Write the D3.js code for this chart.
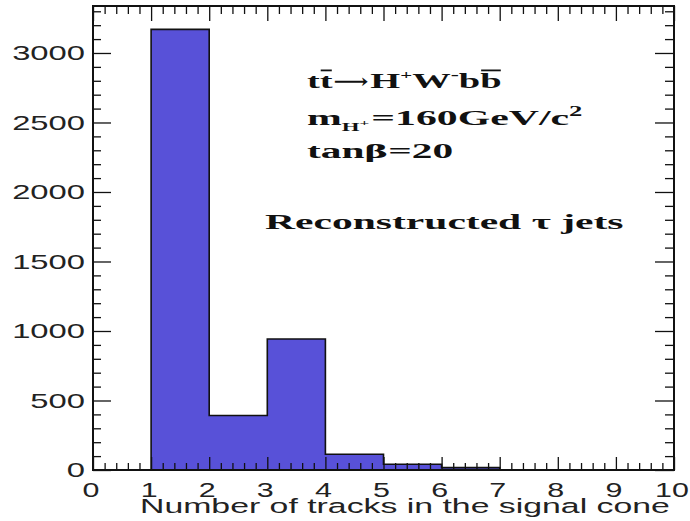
<!DOCTYPE html>
<html>
<head>
<meta charset="utf-8">
<style>
  body { margin: 0; background: #fff; }
  svg { display: block; }
  text { white-space: pre; }
</style>
</head>
<body>
<svg id="chart" width="690" height="521"></svg>
<script src="https://cdnjs.cloudflare.com/ajax/libs/d3/7.8.5/d3.min.js"></script>
<script>
// histogram: number of tracks in the signal cone
var binEdges = [0, 1, 2, 3, 4, 5, 6, 7, 8, 9, 10];
var binCounts = [0, 3170, 392, 942, 113, 41, 17, 0, 0, 0];
var xTicks = [0, 1, 2, 3, 4, 5, 6, 7, 8, 9, 10];
var yTicks = [0, 500, 1000, 1500, 2000, 2500, 3000];
var yMax = 3338;

var svg = d3.select("#chart");
var padL = 93, padR = 674, padT = 6, padB = 470;

var x = d3.scaleLinear().domain([0, 10]).range([padL, padR]);
var y = d3.scaleLinear().domain([0, yMax]).range([padB, padT]);

var fill = "#5851d8";
var sans = "Liberation Sans, Arial, sans-serif";
var serif = "Liberation Serif, Times New Roman, serif";

// step points of the histogram
var bins = binCounts.map(function(v, i) { return {lo: binEdges[i], hi: binEdges[i + 1], v: v}; });
var pts = [[binEdges[0], 0]];
bins.forEach(function(d) { pts.push([d.lo, d.v]); pts.push([d.hi, d.v]); });
pts.push([binEdges[binEdges.length - 1], 0]);

// filled area, one piece so there are no seams between bins
svg.append("path")
  .attr("d", d3.area().x(function(p) { return x(p[0]); }).y0(y(0)).y1(function(p) { return y(p[1]); })(pts))
  .attr("fill", fill);

// outline
svg.append("path")
  .attr("d", d3.line().x(function(p) { return x(p[0]); }).y(function(p) { return y(p[1]); })(pts))
  .attr("fill", "none")
  .attr("stroke", "#111")
  .attr("stroke-width", 1.6);

// minor tick values
var xMinor = d3.range(0, 10.001, 0.2).filter(function(v) { return Math.abs(v - Math.round(v)) > 1e-6; });
var yMinor = d3.range(0, yMax, 100).filter(function(v) { return v % 500 !== 0; });

function noDomain(g) { g.select(".domain").remove(); g.selectAll("line").attr("stroke", "#111").attr("stroke-width", 1.3); }

// the labels in the picture are stretched sideways
var sxTick = 1.56;

// bottom axis (ticks pointing up)
svg.append("g").attr("transform", "translate(0," + padB + ")")
  .call(d3.axisBottom(x).tickValues(xMinor).tickSize(-7).tickFormat(""))
  .call(noDomain);
var xb = svg.append("g").attr("transform", "translate(0," + padB + ")")
  .call(d3.axisBottom(x).tickValues(xTicks).tickSize(-13).tickFormat(d3.format("d")))
  .call(noDomain);
xb.selectAll("text")
  .attr("font-family", sans).attr("font-size", 19.5).attr("fill", "#222")
  .attr("dy", 0).attr("y", 27).attr("x", -2.5 / sxTick)
  .attr("transform", "scale(" + sxTick + ",1)");

// top axis (ticks pointing down)
svg.append("g").attr("transform", "translate(0," + padT + ")")
  .call(d3.axisTop(x).tickValues(xMinor).tickSize(-8).tickFormat(""))
  .call(noDomain);
svg.append("g").attr("transform", "translate(0," + padT + ")")
  .call(d3.axisTop(x).tickValues(xTicks).tickSize(-15).tickFormat(""))
  .call(noDomain);

// left axis (ticks pointing right)
svg.append("g").attr("transform", "translate(" + padL + ",0)")
  .call(d3.axisLeft(y).tickValues(yMinor).tickSize(-8).tickFormat(""))
  .call(noDomain);
var yl = svg.append("g").attr("transform", "translate(" + padL + ",0)")
  .call(d3.axisLeft(y).tickValues(yTicks).tickSize(-18).tickFormat(d3.format("d")))
  .call(noDomain);
yl.selectAll("text")
  .attr("font-family", sans).attr("font-size", 21).attr("fill", "#222")
  .attr("dy", "0.33em").attr("x", -8 / sxTick)
  .attr("transform", "scale(" + sxTick + ",1)");

// right axis (ticks pointing left)
svg.append("g").attr("transform", "translate(" + padR + ",0)")
  .call(d3.axisRight(y).tickValues(yMinor).tickSize(-9).tickFormat(""))
  .call(noDomain);
svg.append("g").attr("transform", "translate(" + padR + ",0)")
  .call(d3.axisRight(y).tickValues(yTicks).tickSize(-19).tickFormat(""))
  .call(noDomain);

// frame
svg.append("rect")
  .attr("x", padL).attr("y", padT)
  .attr("width", padR - padL).attr("height", padB - padT)
  .attr("fill", "none").attr("stroke", "#111").attr("stroke-width", 2);

// x axis title, fitted between x=140 and x=670
var title = svg.append("g").attr("transform", "translate(140,513)");
var tt = title.append("text")
  .attr("font-family", sans).attr("font-size", 19.5).attr("fill", "#222")
  .text("Number of tracks in the signal cone");
title.attr("transform", "translate(140,513) scale(" + (530 / tt.node().getComputedTextLength()) + ",1)");

// labels in Times bold, built piece by piece and stretched
function richLine(x0, base, sx, pieces) {
  var g = svg.append("g").attr("transform", "translate(" + x0 + "," + base + ") scale(" + sx + ",1)");
  var cx = 0;
  pieces.forEach(function(p) {
    var size = p.size || 22;
    var t = g.append("text")
      .attr("x", cx).attr("y", p.dy || 0)
      .attr("font-family", p.family || serif)
      .attr("font-weight", "bold")
      .attr("font-size", size)
      .attr("fill", "#111")
      .text(p.t);
    if (p.width) t.attr("textLength", p.width / sx).attr("lengthAdjust", "spacingAndGlyphs");
    var w = p.width ? p.width / sx : t.node().getComputedTextLength();
    if (p.over) {
      g.append("line")
        .attr("x1", cx + 0.5).attr("x2", cx + w - 0.5)
        .attr("y1", -size * 0.8).attr("y2", -size * 0.8)
        .attr("stroke", "#111").attr("stroke-width", 1.8);
    }
    cx += w + (p.gap || 0);
  });
}

richLine(307, 88, 1.75, [
  {t: "t"}, {t: "t", over: true, gap: 0.5},
  {t: "\u27f6", family: "DejaVu Serif, serif", size: 20, width: 35, gap: 1},
  {t: "H"}, {t: "+", size: 12, dy: -9},
  {t: "W"}, {t: "-", size: 14, dy: -9},
  {t: "b"}, {t: "b", over: true}
]);
richLine(307, 125, 1.9, [
  {t: "m"}, {t: "H", size: 12, dy: 6}, {t: "+", size: 9, dy: 1, gap: 1},
  {t: "=160GeV/c"}, {t: "2", size: 14, dy: -9}
]);
richLine(307, 158, 1.88, [
  {t: "tan"}, {t: "\u03b2", family: "DejaVu Serif, serif", size: 19}, {t: "=20"}
]);
richLine(265, 229, 1.89, [
  {t: "Reconstructed "}, {t: "\u03c4", size: 22, family: "Liberation Serif, serif"}, {t: " jets"}
]);
</script>
</body>
</html>
